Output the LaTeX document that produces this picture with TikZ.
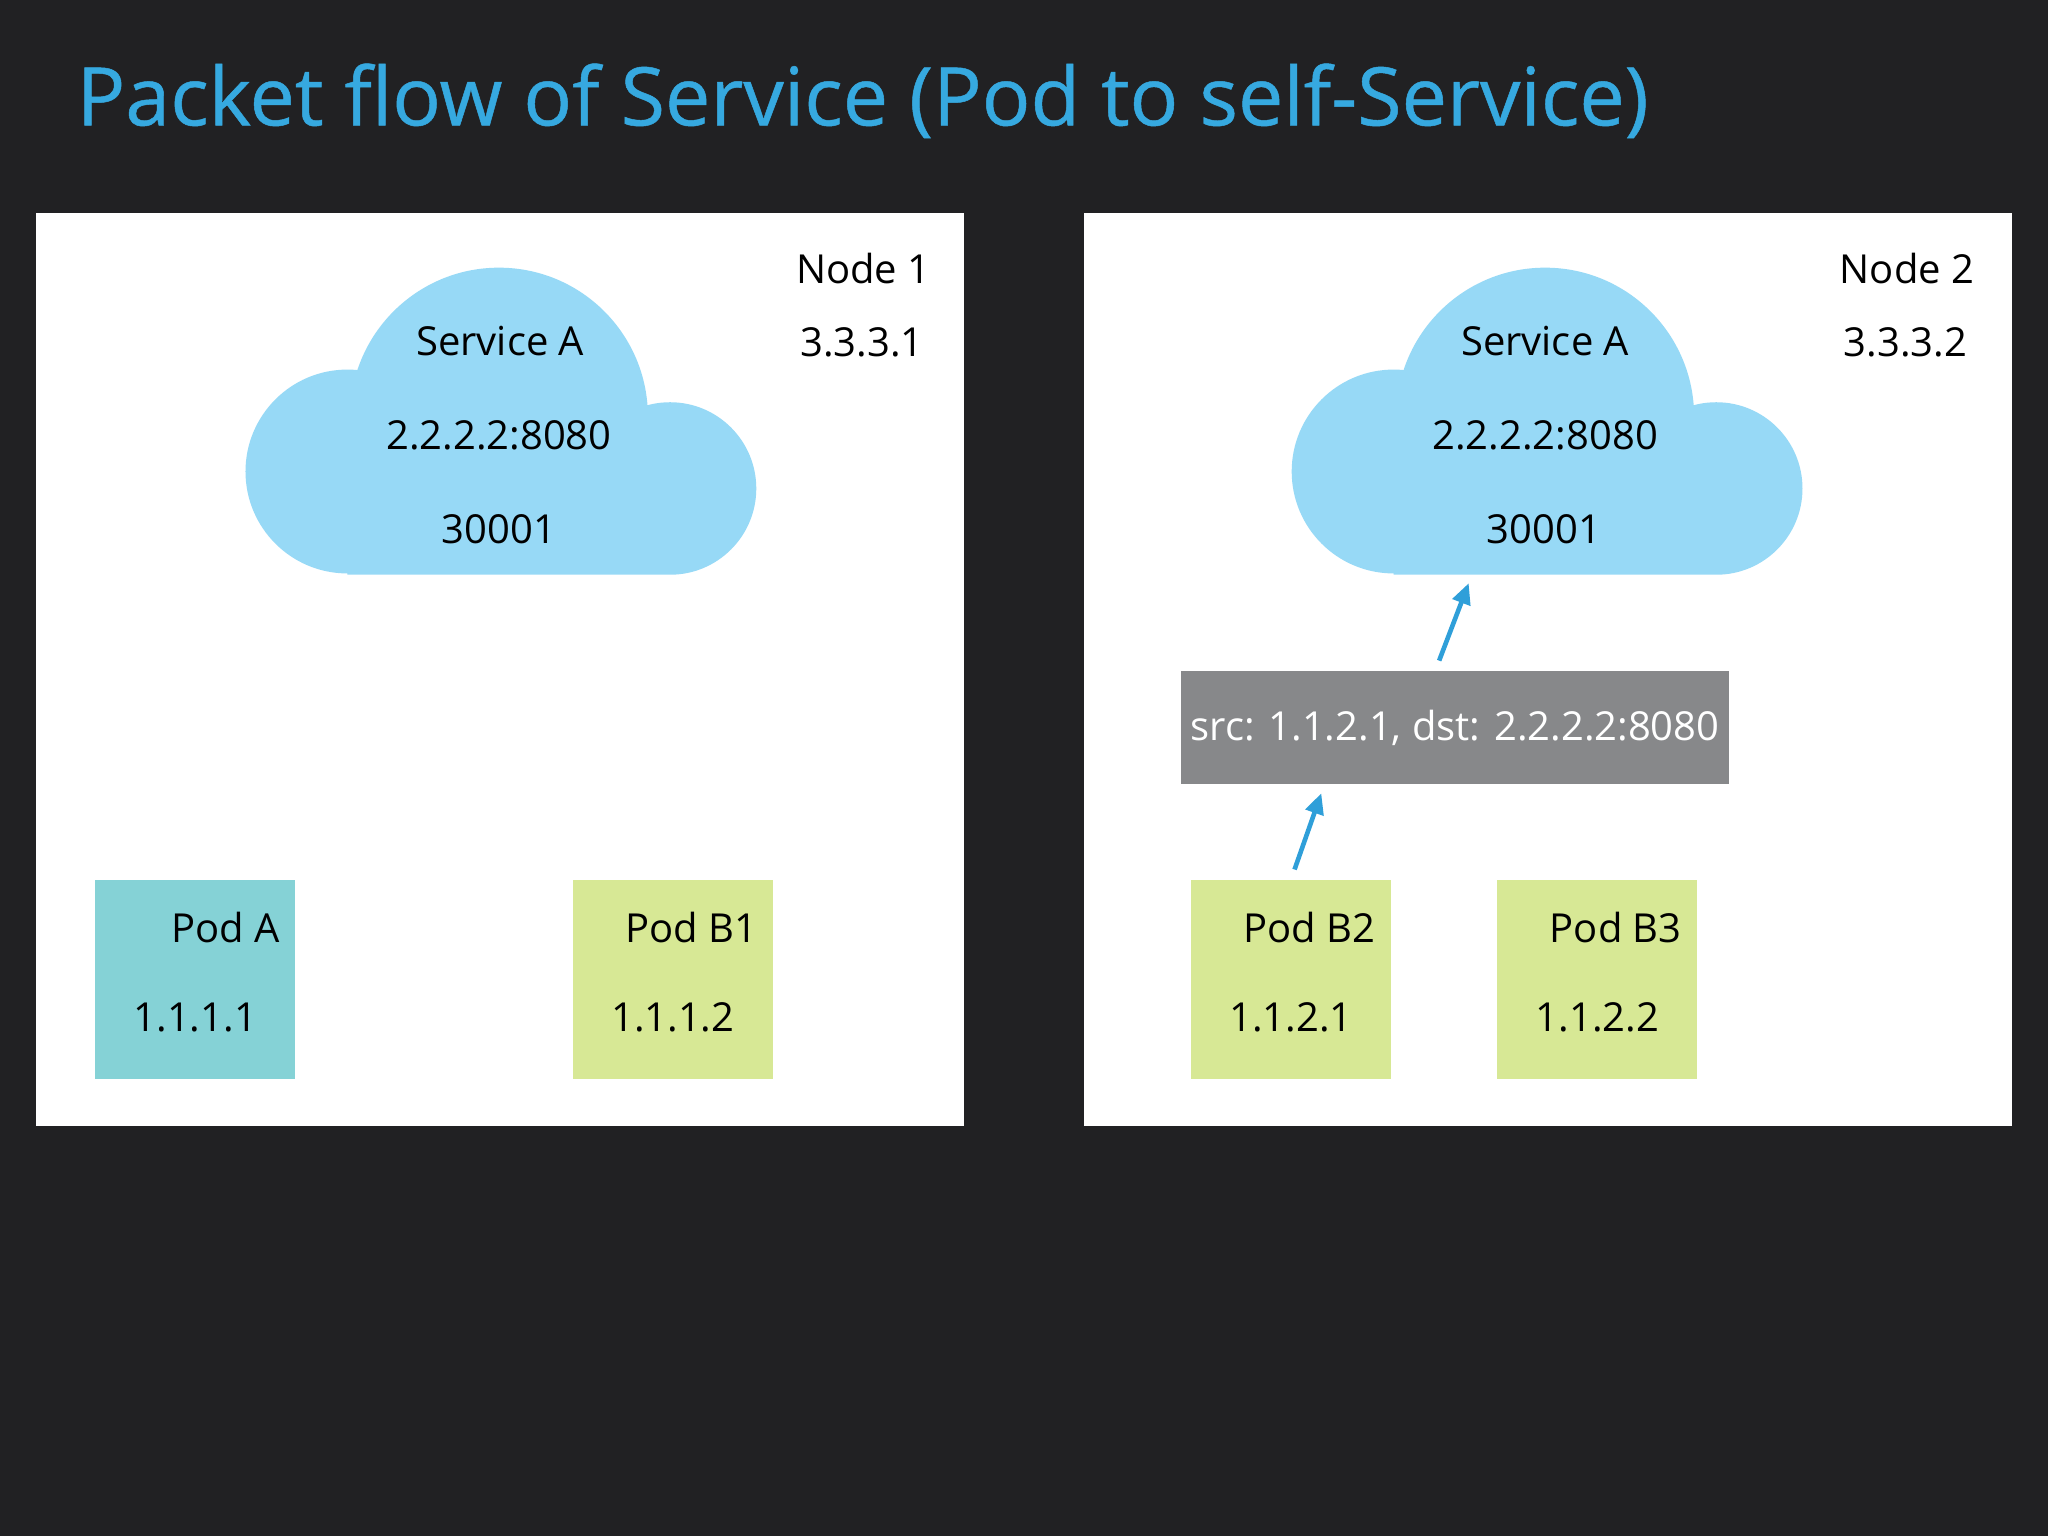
\documentclass[tikz,border=0pt]{standalone}
\usepackage{fontspec}
\setmainfont{Open Sans}
\newfontfamily\titlefont[FakeBold=0.6]{Open Sans}
\usetikzlibrary{positioning,arrows.meta}

\definecolor{bgdark}{HTML}{212123}
\definecolor{titleblue}{HTML}{36A9E0}
\definecolor{cloudblue}{HTML}{97D9F6}
\definecolor{podteal}{HTML}{85D2D6}
\definecolor{podgreen}{HTML}{D7E895}
\definecolor{pktgray}{HTML}{87888A}
\definecolor{arrowblue}{HTML}{2F9FD9}

\newcommand{\svccloud}[1]{% #1 = centre x of the cloud
  \fill[cloudblue] (#1-1,319) circle (1.14cm)
    (#1-117,361) circle (0.78cm)
    (#1+130,374) circle (0.66cm)
    (#1-117,361) rectangle (#1+130,440);}

\begin{document}
\begin{tikzpicture}[x=0.01cm,y=-0.01cm,
    hostbox/.style={fill=white,minimum width=7.1cm,minimum height=6.99cm,inner sep=0pt},
    pod/.style={minimum width=1.53cm,minimum height=1.52cm,inner sep=0pt},
    txt/.style={font=\fontsize{8.7}{10}\selectfont,inner sep=0pt,anchor=base},
    pkt/.style={fill=pktgray,text=white,minimum width=4.2cm,minimum height=0.86cm,inner sep=0pt,
      font=\fontsize{8.7}{10}\selectfont},
    flow/.style={-{Triangle[length=4.5pt,width=4pt]},arrowblue,line width=1pt,
      shorten <=0.08cm,shorten >=0.07cm}]
  \fill[bgdark] (0,0) rectangle (1568,1176);
  \useasboundingbox (0,0) rectangle (1568,1176);

  \node[anchor=base west,text=titleblue,inner sep=0pt,font=\titlefont\fontsize{17.6}{20}\selectfont]
    (title) at (58,96) {Packet flow of Service (Pod to self-Service)};

  % Node 1
  \node[hostbox] (host1) at (383,512.5) {};
  \node[txt] (host1name) at (661,217) {Node 1};
  \node[txt] (host1ip) at (660,273) {3.3.3.1};
  \svccloud{383}
  \node[txt] (svc1) at (383,272) {Service A};
  \node[txt] (svc1ip) at (382,344) {2.2.2.2:8080};
  \node[txt] (svc1port) at (382,416) {30001};
  \node[pod,fill=podteal] (podA) at (149.5,750) {};
  \node[pod,fill=podgreen,right=2.11cm of podA] (podB1) {};

  % Node 2
  \node[hostbox] (host2) at (1185,512.5) {};
  \node[txt] (host2name) at (1460,217) {Node 2};
  \node[txt] (host2ip) at (1459,273) {3.3.3.2};
  \svccloud{1184}
  \node[txt] (svc2) at (1183,272) {Service A};
  \node[txt] (svc2ip) at (1183,344) {2.2.2.2:8080};
  \node[txt] (svc2port) at (1182,416) {30001};
  \coordinate (cloud2) at (1183,440);
  \node[pod,fill=podgreen] (podB2) at (988.5,750) {};
  \node[pod,fill=podgreen,right=0.8cm of podB2] (podB3) {};
  \node[pkt] (pkt) at (1114,557) {src: 1.1.2.1, dst: 2.2.2.2:8080};

  % pod labels
  \foreach \p/\name/\ip in {podA/Pod A/1.1.1.1,podB1/Pod B1/1.1.1.2,
                            podB2/Pod B2/1.1.2.1,podB3/Pod B3/1.1.2.2}{
    \node[txt,anchor=base east] at ([xshift=-0.12cm,yshift=-0.48cm]\p.north east) {\name};
    \node[txt] at ([yshift=-0.40cm]\p.center) {\ip};
  }

  \draw[flow] (podB2.north) -- ([xshift=-1cm]pkt.south);
  \draw[flow] ([xshift=-0.15cm]pkt.north) -- ([xshift=-0.56cm]cloud2);
\end{tikzpicture}
\end{document}
